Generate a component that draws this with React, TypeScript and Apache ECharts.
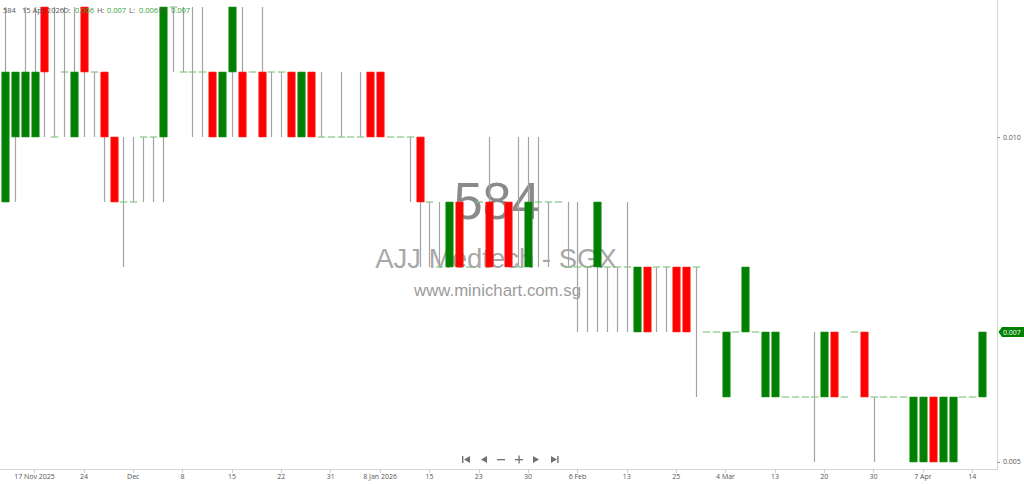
import React, { useEffect, useRef } from "react";
import * as echarts from "echarts";

// ---- data ----
const dates: string[] = [
  "2025-11-12", "2025-11-13", "2025-11-14", "2025-11-17", "2025-11-18", "2025-11-19", "2025-11-20", "2025-11-21",
  "2025-11-24", "2025-11-25", "2025-11-26", "2025-11-27", "2025-11-28",
  "2025-12-01", "2025-12-02", "2025-12-03", "2025-12-04", "2025-12-05", "2025-12-08", "2025-12-09", "2025-12-10",
  "2025-12-11", "2025-12-12", "2025-12-15", "2025-12-16", "2025-12-17", "2025-12-18", "2025-12-19", "2025-12-22",
  "2025-12-23", "2025-12-24", "2025-12-29", "2025-12-30", "2025-12-31",
  "2026-01-02", "2026-01-05", "2026-01-06", "2026-01-07", "2026-01-08", "2026-01-09", "2026-01-12", "2026-01-13",
  "2026-01-14", "2026-01-15", "2026-01-16", "2026-01-19", "2026-01-20", "2026-01-21", "2026-01-23", "2026-01-26",
  "2026-01-27", "2026-01-28", "2026-01-29", "2026-01-30",
  "2026-02-02", "2026-02-03", "2026-02-04", "2026-02-05", "2026-02-06", "2026-02-09", "2026-02-10", "2026-02-11",
  "2026-02-12", "2026-02-13", "2026-02-16", "2026-02-19", "2026-02-20", "2026-02-23", "2026-02-25", "2026-02-26",
  "2026-02-27",
  "2026-03-02", "2026-03-03", "2026-03-04", "2026-03-05", "2026-03-09", "2026-03-10", "2026-03-12", "2026-03-13",
  "2026-03-16", "2026-03-17", "2026-03-18", "2026-03-19", "2026-03-20", "2026-03-23", "2026-03-24", "2026-03-25",
  "2026-03-26", "2026-03-30", "2026-03-31",
  "2026-04-01", "2026-04-02", "2026-04-06", "2026-04-07", "2026-04-08", "2026-04-09", "2026-04-10", "2026-04-13",
  "2026-04-14", "2026-04-15",
];
// empty slot kept at the right edge of the chart
const paddingSlots: string[] = ["2026-04-16"];

const opens: (number | null)[] = [
  0.009, 0.010, 0.010, 0.010, 0.012, 0.010, 0.011, 0.010, 0.012, 0.011,
  0.011, 0.010, 0.009, 0.009, 0.010, 0.010, 0.010, 0.012, 0.011, 0.011,
  0.011, 0.011, 0.010, 0.011, 0.011, 0.011, 0.011, 0.011, 0.011, 0.011,
  0.010, 0.011, 0.010, 0.010, 0.010, 0.010, 0.010, 0.011, 0.011, 0.010,
  0.010, 0.010, 0.010, 0.009, 0.008, 0.008, 0.009, 0.008, 0.009, 0.009,
  null, 0.009, 0.008, 0.008, 0.009, 0.009, 0.009, 0.008, 0.008, 0.008,
  0.008, 0.008, 0.008, 0.008, 0.007, 0.008, 0.008, 0.008, 0.008, 0.008,
  0.008, 0.007, 0.007, 0.006, 0.007, 0.007, 0.007, 0.006, 0.006, 0.006,
  0.006, 0.006, 0.006, 0.006, 0.007, 0.006, 0.007, 0.007, 0.006, 0.006,
  0.006, 0.006, 0.005, 0.005, 0.006, 0.005, 0.005, 0.006, 0.006, 0.006,
];
const closes: (number | null)[] = [
  0.011, 0.011, 0.011, 0.011, 0.011, 0.010, 0.011, 0.011, 0.011, 0.011,
  0.010, 0.009, 0.009, 0.009, 0.010, 0.010, 0.012, 0.012, 0.011, 0.011,
  0.011, 0.010, 0.011, 0.012, 0.010, 0.011, 0.010, 0.011, 0.011, 0.010,
  0.011, 0.010, 0.010, 0.010, 0.010, 0.010, 0.010, 0.010, 0.010, 0.010,
  0.010, 0.010, 0.009, 0.009, 0.008, 0.009, 0.008, 0.008, 0.009, 0.008,
  null, 0.008, 0.008, 0.009, 0.009, 0.009, 0.009, 0.008, 0.008, 0.008,
  0.009, 0.008, 0.008, 0.008, 0.008, 0.007, 0.008, 0.008, 0.007, 0.007,
  0.008, 0.007, 0.007, 0.007, 0.007, 0.008, 0.007, 0.007, 0.007, 0.006,
  0.006, 0.006, 0.006, 0.007, 0.006, 0.006, 0.007, 0.006, 0.006, 0.006,
  0.006, 0.006, 0.006, 0.006, 0.005, 0.006, 0.006, 0.006, 0.006, 0.007,
];
const lows: (number | null)[] = [
  0.009, 0.009, 0.010, 0.010, 0.010, 0.010, 0.010, 0.010, 0.010, 0.010,
  0.009, 0.009, 0.008, 0.009, 0.009, 0.009, 0.009, 0.011, 0.011, 0.010,
  0.010, 0.010, 0.010, 0.010, 0.010, 0.011, 0.010, 0.010, 0.010, 0.010,
  0.010, 0.010, 0.010, 0.010, 0.010, 0.010, 0.010, 0.010, 0.010, 0.010,
  0.010, 0.009, 0.008, 0.008, 0.008, 0.008, 0.008, 0.008, 0.009, 0.008,
  null, 0.008, 0.008, 0.008, 0.008, 0.008, 0.009, 0.008, 0.007, 0.007,
  0.007, 0.007, 0.007, 0.007, 0.007, 0.007, 0.007, 0.007, 0.007, 0.007,
  0.006, 0.007, 0.007, 0.006, 0.007, 0.007, 0.007, 0.006, 0.006, 0.006,
  0.006, 0.006, 0.005, 0.006, 0.006, 0.006, 0.007, 0.006, 0.005, 0.006,
  0.006, 0.006, 0.005, 0.005, 0.005, 0.005, 0.005, 0.006, 0.006, 0.006,
];
const highs: (number | null)[] = [
  0.012, 0.011, 0.012, 0.012, 0.012, 0.012, 0.012, 0.012, 0.012, 0.011,
  0.011, 0.010, 0.010, 0.010, 0.010, 0.010, 0.012, 0.012, 0.012, 0.012,
  0.012, 0.011, 0.011, 0.012, 0.012, 0.011, 0.012, 0.011, 0.011, 0.011,
  0.011, 0.011, 0.011, 0.010, 0.011, 0.010, 0.011, 0.011, 0.011, 0.010,
  0.010, 0.010, 0.010, 0.009, 0.009, 0.009, 0.009, 0.008, 0.009, 0.010,
  null, 0.009, 0.010, 0.010, 0.010, 0.009, 0.009, 0.009, 0.009, 0.008,
  0.009, 0.008, 0.008, 0.009, 0.008, 0.008, 0.008, 0.008, 0.008, 0.008,
  0.008, 0.007, 0.007, 0.007, 0.007, 0.008, 0.007, 0.007, 0.007, 0.006,
  0.006, 0.006, 0.007, 0.007, 0.007, 0.006, 0.007, 0.007, 0.006, 0.006,
  0.006, 0.006, 0.006, 0.006, 0.006, 0.006, 0.006, 0.006, 0.006, 0.007,
];

const xTickLabels: [string, string][] = [
  ["2025-11-17", "17 Nov 2025"], ["2025-11-24", "24"], ["2025-12-01", "Dec"], ["2025-12-08", "8"],
  ["2025-12-15", "15"], ["2025-12-22", "22"], ["2025-12-31", "31"], ["2026-01-08", "8 Jan 2026"],
  ["2026-01-15", "15"], ["2026-01-23", "23"], ["2026-01-30", "30"], ["2026-02-06", "6 Feb"],
  ["2026-02-13", "13"], ["2026-02-25", "25"], ["2026-03-04", "4 Mar"], ["2026-03-13", "13"],
  ["2026-03-20", "20"], ["2026-03-30", "30"], ["2026-04-07", "7 Apr"], ["2026-04-14", "14"],
];
const yTickValues = [0.005, 0.01];
const Y_MIN = 0.004892;
const Y_MAX = 0.012108;

const stockCode = "584";
const stockName = "AJJ Medtech - SGX";
const siteName = "www.minichart.com.sg";
const lastDateLabel = "15 Apr 2026";

const UP = "#008000";
const DOWN = "#ff0000";
const WICK = "#a3a3a3";
const DOJI = "#86c686";
const FONT = "'Open Sans', 'Liberation Sans', sans-serif";

export default function App() {
  const ref = useRef<HTMLDivElement>(null);

  useEffect(() => {
    document.body.style.margin = "0";
    if (!ref.current) return;
    const chart = echarts.init(ref.current, undefined, { renderer: "svg" });

    const categories = [...dates, ...paddingSlots];
    const labelMap: Record<string, string> = {};
    xTickLabels.forEach(([d, t]) => (labelMap[d] = t));
    const showAt = (_i: number, v: string) => labelMap[v] !== undefined;

    const candles: number[][] = [];
    dates.forEach((_d, i) => {
      if (opens[i] == null) return;
      candles.push([i, opens[i] as number, closes[i] as number, lows[i] as number, highs[i] as number]);
    });

    const last = dates.length - 1;
    const fmt = (v: number | null) => (v == null ? "" : v.toFixed(3));
    const lastClose = closes[last] as number;

    const hdr = (x: number, text: string, green: boolean) => ({
      type: "text",
      x,
      y: 10,
      z: 100,
      style: {
        text,
        fill: green ? "#36a336" : "#555",
        font: `7.5px ${FONT}`,
        verticalAlign: "middle",
      },
    });

    const navFill = "#707070";
    const graphics: any[] = [
      {
        type: "text",
        x: 497,
        y: 201,
        z: 0,
        style: {
          text: stockCode,
          fill: "#8a8a8a",
          font: "52px 'Liberation Sans', Arial, sans-serif",
          align: "center",
          verticalAlign: "middle",
        },
      },
      {
        type: "text",
        x: 496,
        y: 258,
        z: 0,
        style: {
          text: stockName,
          fill: "#a8a8a8",
          font: "27.5px 'Liberation Sans', Arial, sans-serif",
          align: "center",
          verticalAlign: "middle",
        },
      },
      {
        type: "text",
        x: 497.5,
        y: 290,
        z: 0,
        style: {
          text: siteName,
          fill: "#9c9c9c",
          font: "16.8px 'Liberation Sans', Arial, sans-serif",
          align: "center",
          verticalAlign: "middle",
        },
      },
      hdr(3, stockCode, false),
      hdr(22, lastDateLabel, false),
      hdr(63, "O:", false),
      hdr(75, fmt(opens[last]), true),
      hdr(97, "H:", false),
      hdr(107, fmt(highs[last]), true),
      hdr(129, "L:", false),
      hdr(139, fmt(lows[last]), true),
      hdr(159, "C:", false),
      hdr(171, fmt(closes[last]), true),
      // navigation buttons
      { type: "rect", shape: { x: 462, y: 456, width: 1.4, height: 7 }, style: { fill: navFill }, z: 50 },
      { type: "polygon", shape: { points: [[470, 456], [470, 463], [464, 459.5]] }, style: { fill: navFill }, z: 50 },
      { type: "polygon", shape: { points: [[487, 456], [487, 463], [481, 459.5]] }, style: { fill: navFill }, z: 50 },
      { type: "rect", shape: { x: 497, y: 459, width: 8, height: 1.3 }, style: { fill: navFill }, z: 50 },
      { type: "rect", shape: { x: 515, y: 459, width: 8, height: 1.3 }, style: { fill: navFill }, z: 50 },
      { type: "rect", shape: { x: 518.4, y: 455.5, width: 1.3, height: 8 }, style: { fill: navFill }, z: 50 },
      { type: "polygon", shape: { points: [[533, 456], [533, 463], [539, 459.5]] }, style: { fill: navFill }, z: 50 },
      { type: "polygon", shape: { points: [[551, 456], [551, 463], [557, 459.5]] }, style: { fill: navFill }, z: 50 },
      { type: "rect", shape: { x: 557.2, y: 456, width: 1.4, height: 7 }, style: { fill: navFill }, z: 50 },
    ];

    const option: any = {
      animation: false,
      grid: { left: 0, right: 27, top: 0, bottom: 15, containLabel: false },
      xAxis: {
        type: "category",
        data: categories,
        boundaryGap: true,
        axisLine: { show: true, lineStyle: { color: "#d6d6d6", width: 1 } },
        axisTick: {
          show: true,
          alignWithLabel: true,
          interval: showAt,
          length: 4,
          lineStyle: { color: "#cfcfcf" },
        },
        axisLabel: {
          interval: showAt,
          formatter: (v: string) => labelMap[v] ?? "",
          fontSize: 7,
          color: "#555",
          fontFamily: FONT,
          margin: 4,
        },
        splitLine: { show: false },
      },
      yAxis: {
        type: "value",
        position: "right",
        min: Y_MIN,
        max: Y_MAX,
        scale: true,
        axisLine: { show: true, lineStyle: { color: "#d6d6d6", width: 1 } },
        axisTick: { show: true, length: 3, customValues: yTickValues, lineStyle: { color: "#999" } },
        axisLabel: {
          customValues: yTickValues,
          formatter: (v: number) => v.toFixed(3),
          fontSize: 7,
          color: "#555",
          fontFamily: FONT,
          margin: 6,
        },
        splitLine: { show: false },
      },
      graphic: graphics,
      series: [
        {
          type: "custom",
          z: 5,
          data: candles,
          encode: { x: 0, y: [1, 2, 3, 4] },
          clip: false,
          renderItem: (_params: any, api: any) => {
            const idx = api.value(0);
            const o = api.value(1);
            const c = api.value(2);
            const l = api.value(3);
            const h = api.value(4);
            const band = api.size([1, 0])[0];
            const bodyW = band * 0.76;
            const p = api.coord([idx, o]);
            const x = Math.round(p[0]) + 0.5;
            const yO = p[1];
            const yC = api.coord([idx, c])[1];
            const yL = api.coord([idx, l])[1];
            const yH = api.coord([idx, h])[1];
            const children: any[] = [];
            if (h !== l) {
              children.push({
                type: "line",
                shape: { x1: x, y1: yH, x2: x, y2: yL },
                style: { stroke: WICK, lineWidth: 1.2 },
              });
            }
            if (o === c) {
              children.push({
                type: "line",
                shape: { x1: x - bodyW / 2, y1: yO, x2: x + bodyW / 2, y2: yO },
                style: { stroke: DOJI, lineWidth: 1.2 },
              });
            } else {
              children.push({
                type: "rect",
                shape: { x: x - bodyW / 2, y: Math.min(yO, yC), width: bodyW, height: Math.abs(yC - yO) },
                style: { fill: c > o ? UP : DOWN, stroke: c > o ? "#2a932a" : "#ff3030", lineWidth: 0.6 },
              });
            }
            return { type: "group", children };
          },
        },
      ],
    };

    chart.setOption(option);

    // last-price tag on the value axis, positioned through the axis scale
    const tagY = chart.convertToPixel({ yAxisIndex: 0 }, lastClose) as number;
    const axisX = chart.getWidth() - 27;
    graphics.push(
      {
        type: "polygon",
        z: 60,
        shape: {
          points: [
            [axisX + 1.5, tagY],
            [axisX + 5, tagY - 5],
            [chart.getWidth(), tagY - 5],
            [chart.getWidth(), tagY + 5],
            [axisX + 5, tagY + 5],
          ],
        },
        style: { fill: UP },
      },
      {
        type: "text",
        z: 61,
        x: axisX + 6,
        y: tagY + 0.3,
        style: {
          text: lastClose.toFixed(3),
          fill: "#fff",
          font: `7px ${FONT}`,
          verticalAlign: "middle",
        },
      }
    );
    chart.setOption({ graphic: graphics });

    return () => chart.dispose();
  }, []);

  return (
    <div
      ref={ref}
      style={{ position: "absolute", left: 0, top: 0, width: 1024, height: 484, background: "#fff" }}
    />
  );
}
